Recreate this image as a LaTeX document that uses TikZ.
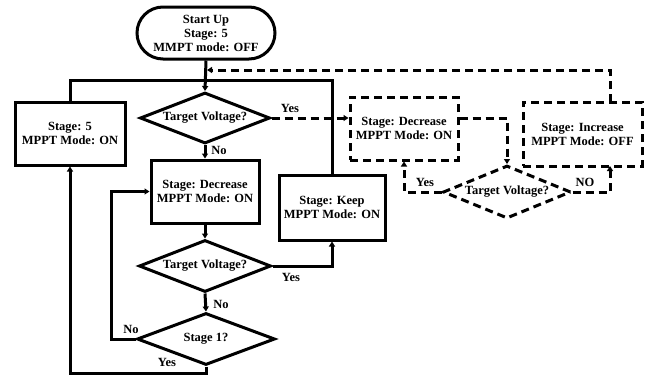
\documentclass[tikz,border=0pt]{standalone}
\usepackage{fontspec}
\setmainfont{Liberation Serif}
\usetikzlibrary{shapes.geometric,shapes.misc,arrows.meta}
\begin{document}
\begin{tikzpicture}[x=1pt,y=-1pt,
  every node/.style={font=\bfseries\fontsize{12.5}{14}\selectfont,align=center},
  lw/.style={line width=3pt},
  box/.style={draw,lw,inner sep=0pt},
  dsh/.style={dash pattern=on 8pt off 5pt},
  dia/.style={draw,lw,diamond,shape aspect=2.6,inner sep=0pt},
  conn/.style={lw,-{Triangle[length=5pt,width=6pt]}},
  lab/.style={inner sep=0pt}]
\useasboundingbox (0,0) rectangle (657,378);
% nodes
\node[box,rounded rectangle,minimum width=138,minimum height=52] (start) at (206,33) {Start Up\\Stage: 5\\MMPT mode: OFF};
\node[box,minimum width=110,minimum height=63] (left) at (70,133.5) {Stage: 5\\MPPT Mode: ON};
\node[dia,minimum width=130,minimum height=51] (d1) at (205,118) {Target Voltage?};
\node[box,minimum width=108,minimum height=63] (dec) at (205,191.5) {Stage: Decrease\\MPPT Mode: ON};
\node[dia,minimum width=132,minimum height=52] (d2) at (205,266) {Target Voltage?};
\node[box,minimum width=106,minimum height=65] (keep) at (332,207.5) {Stage: Keep\\MPPT Mode: ON};
\node[dia,minimum width=138,minimum height=52] (d3) at (206,339) {Stage 1?};
\node[box,dsh,minimum width=108,minimum height=63] (ddec) at (404,128.5) {Stage: Decrease\\MPPT Mode: ON};
\node[box,dsh,minimum width=119,minimum height=64] (inc) at (582.5,134) {Stage: Increase\\MPPT Mode: OFF};
\node[dia,dsh,minimum width=128,minimum height=53] (d4) at (507,192) {Target Voltage?};
% coordinates
\coordinate (j) at (205,80);
\coordinate (jd) at (207,70);
\coordinate (incin) at (610,166);
\coordinate (incout) at (610,102);
% solid connectors
\draw[conn] (start.south) -- (d1.north);
\draw[lw] (left.north) |- (j);
\draw[lw] (keep.north) |- (j);
\draw[conn] (d1.south) -- (dec.north);
\draw[conn] (dec.south) -- (d2.north);
\draw[conn] (d2.east) -| (keep.south);
\draw[conn] (d2.south) -- (d3.north);
\draw[conn] (d3.west) -- ++(-24,0) |- (dec.west);
\draw[conn] (d3.south) -- ++(0,7) -| (left.south);
% dashed connectors
\draw[conn,dsh] (d1.east) -- (d1.east -| ddec.west);
\draw[conn,dsh] (ddec.east |- d1.east) -| (d4.north);
\draw[conn,dsh] (d4.west) -| (ddec.south);
\draw[conn,dsh] (d4.east) -| (incin);
\draw[conn,dsh] (incout) |- (jd);
% labels
\node[lab] (l1) at (290,108) {Yes};
\node[lab] (l2) at (219,150) {No};
\node[lab] (l3) at (291,277) {Yes};
\node[lab] (l4) at (221,304) {No};
\node[lab] (l5) at (131,329) {No};
\node[lab] (l6) at (167,362) {Yes};
\node[lab] (l7) at (425,182) {Yes};
\node[lab] (l8) at (585,182) {NO};
\end{tikzpicture}
\end{document}
